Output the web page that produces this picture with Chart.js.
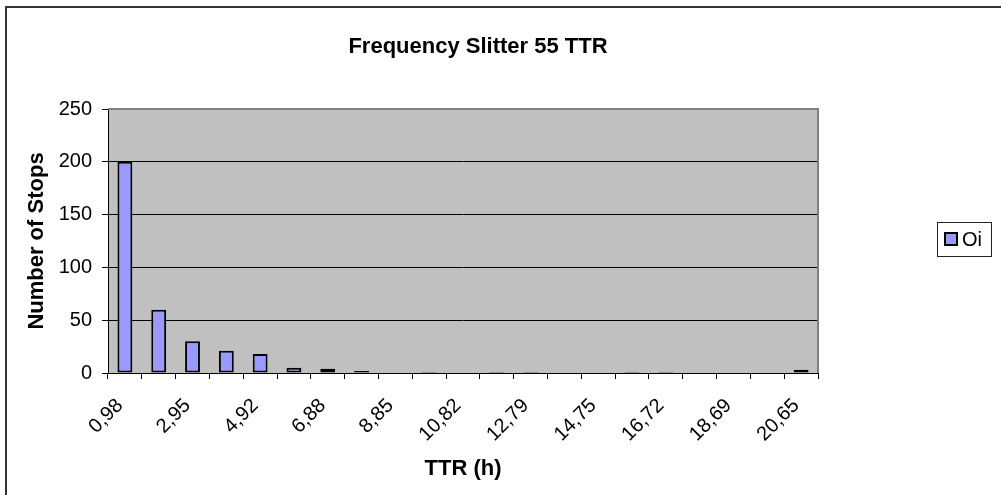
<!DOCTYPE html>
<html>
<head>
<meta charset="utf-8">
<script src="https://cdn.jsdelivr.net/npm/chart.js@4/dist/chart.umd.min.js"></script>
<style>
  html, body { margin: 0; padding: 0; background: #fff; }
  #wrap { position: relative; width: 1001px; height: 495px; }
</style>
</head>
<body>
<div id="wrap"><canvas id="ttrChart"></canvas></div>
<script>
// bin upper limits for TTR in hours (21 bins of ~0.98 h)
const binLabels = [
  "0,98", "1,97", "2,95", "3,93", "4,92", "5,90", "6,88", "7,87", "8,85", "9,84", "10,82",
  "11,80", "12,79", "13,77", "14,75", "15,74", "16,72", "17,70", "18,69", "19,67", "20,65",
];
// observed number of stops per bin
const observed = [200, 60, 30, 21, 18, 5, 4, 2, 0, 1, 0, 1, 1, 0, 0, 1, 1, 0, 0, 0, 3];
const yTicks = [0, 50, 100, 150, 200, 250];
const chartTitle = "Frequency Slitter 55 TTR";

const FONT = "'Liberation Sans', Arial, sans-serif";
const BAR_FILL = "#9999ff";

Chart.defaults.color = "#000";
Chart.defaults.font.family = FONT;

// gray plot background, frame around the whole chart, title, boxed legend
const excelFrame = {
  id: "excelFrame",
  beforeDraw(chart) {
    const { ctx, chartArea: a } = chart;
    ctx.save();
    ctx.fillStyle = "#c0c0c0";
    ctx.fillRect(a.left, a.top, a.right - a.left, a.bottom - a.top);
    ctx.strokeStyle = "#333";
    ctx.lineWidth = 2;
    ctx.strokeRect(6, 7, chart.width + 20, chart.height + 20);
    ctx.restore();
  },
  beforeDatasetsDraw(chart) {
    const { ctx, chartArea: a } = chart;
    ctx.save();
    ctx.strokeStyle = "#808080";
    ctx.lineWidth = 2;
    ctx.beginPath();
    ctx.moveTo(a.left, a.top);
    ctx.lineTo(a.right, a.top);
    ctx.lineTo(a.right, a.bottom);
    ctx.stroke();
    ctx.restore();
  },
  afterDraw(chart) {
    const { ctx, chartArea: a } = chart;
    const ds = chart.data.datasets[0];

    ctx.save();
    ctx.fillStyle = "#000";
    ctx.font = "bold 22px " + FONT;
    ctx.textAlign = "center";
    ctx.textBaseline = "middle";
    ctx.fillText(chartTitle, 478, 47);
    ctx.restore();

    const midY = Math.round((a.top + a.bottom) / 2) - 2;
    const boxL = 937, boxW = 54, boxH = 34;
    ctx.save();
    ctx.fillStyle = "#fff";
    ctx.fillRect(boxL, midY - boxH / 2, boxW, boxH);
    ctx.strokeStyle = "#222";
    ctx.lineWidth = 1;
    ctx.strokeRect(boxL + 0.5, midY - boxH / 2 + 0.5, boxW, boxH);
    ctx.fillStyle = ds.backgroundColor;
    ctx.fillRect(945, midY - 6, 12, 12);
    ctx.lineWidth = 2;
    ctx.strokeStyle = "#000";
    ctx.strokeRect(945, midY - 6, 12, 12);
    ctx.fillStyle = "#000";
    ctx.font = "20px " + FONT;
    ctx.textBaseline = "middle";
    ctx.fillText(ds.label, 962, midY + 1);
    ctx.restore();
  },
};

new Chart(document.getElementById("ttrChart"), {
  type: "bar",
  data: {
    labels: binLabels,
    datasets: [
      {
        label: "Oi",
        data: observed,
        backgroundColor: BAR_FILL,
        borderColor: "#000",
        borderWidth: 2,
        borderSkipped: false,
        barPercentage: 0.44,
        categoryPercentage: 1,
      },
    ],
  },
  options: {
    responsive: true,
    maintainAspectRatio: false,
    animation: false,
    layout: {
      padding: { left: 0, right: 183, top: 109, bottom: 0 },
    },
    plugins: {
      legend: { display: false },
      tooltip: { enabled: false },
      title: { display: false },
    },
    scales: {
      x: {
        afterFit(scale) {
          scale.height = 122;
        },
        grid: {
          drawOnChartArea: false,
          drawTicks: true,
          tickLength: 6,
          color: "#000",
          offset: true,
        },
        border: { color: "#000", width: 1 },
        ticks: {
          autoSkip: false,
          maxRotation: 45,
          minRotation: 45,
          padding: 15,
          labelOffset: -5,
          color: "#000",
          font: { size: 20 },
          callback(value, index) {
            return index % 2 === 0 ? this.getLabelForValue(value) : "";
          },
        },
        title: {
          display: true,
          text: "TTR (h)",
          color: "#000",
          font: { size: 22, weight: "bold" },
          padding: { top: 0, bottom: 13 },
        },
      },
      y: {
        min: yTicks[0],
        max: yTicks[yTicks.length - 1],
        afterFit(scale) {
          scale.width = 108;
        },
        afterBuildTicks(scale) {
          scale.ticks = yTicks.map((v) => ({ value: v }));
        },
        grid: {
          color: "#000",
          lineWidth: 1,
          tickLength: 6,
        },
        border: { color: "#000", width: 1 },
        ticks: {
          padding: 10,
          color: "#000",
          font: { size: 20 },
        },
        title: {
          display: true,
          text: "Number of Stops",
          color: "#000",
          font: { size: 22, weight: "bold" },
          padding: { top: 24, bottom: 0 },
        },
      },
    },
  },
  plugins: [excelFrame],
});
</script>
</body>
</html>
